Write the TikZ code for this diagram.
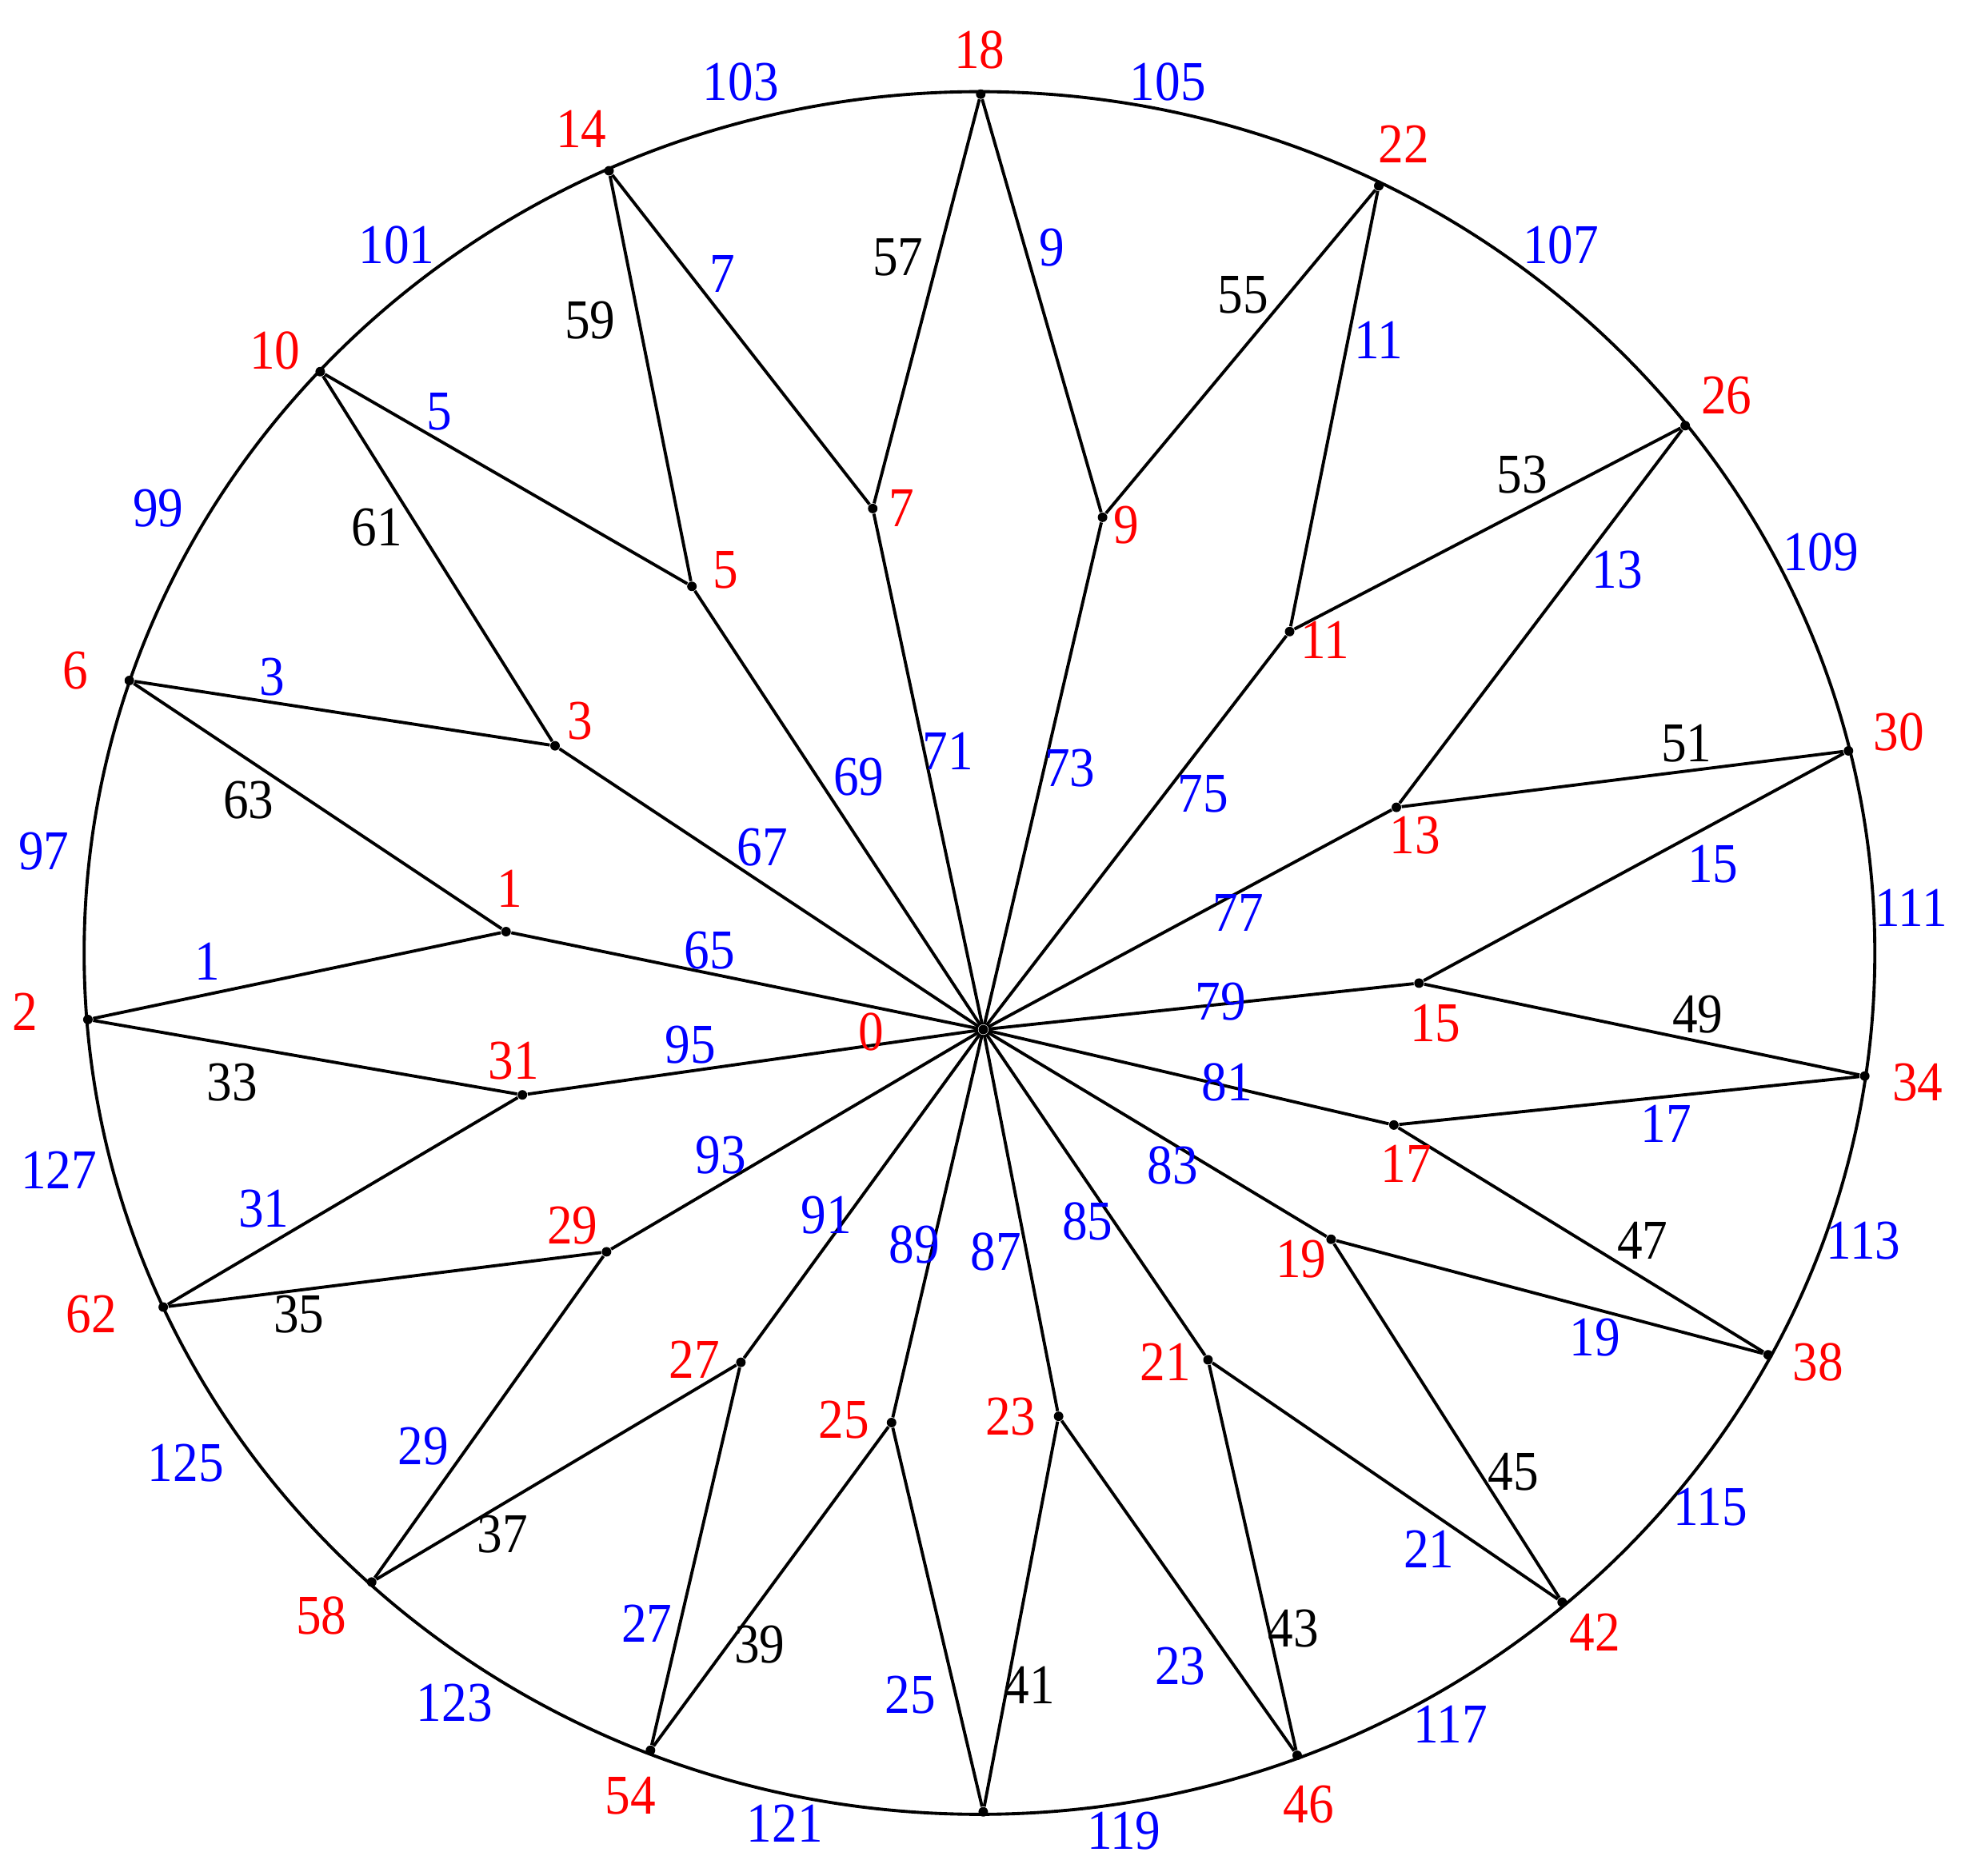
\documentclass[tikz,border=0pt]{standalone}
\usepackage{fontspec}
\setmainfont{Liberation Serif}[FakeStretch=0.9]
\usetikzlibrary{positioning}
\tikzset{%
  vertex/.style={circle, fill, inner sep=0pt, minimum size=3.4pt}, % the dots
  vnum/.style={text=red, inner sep=0pt},   % vertex numbers
  enum/.style={text=blue, inner sep=0pt},  % edge numbers
  knum/.style={text=black, inner sep=0pt}, % the other edge numbers
  every edge/.style={draw, line width=1.1pt}
}

\begin{document}
\begin{tikzpicture}[x=0.15702mm, y=-0.15702mm, font=\fontsize{20}{22}\selectfont]
    \useasboundingbox (0,0) rectangle (1568,1494);

    % outer circle
    \draw[line width=1.1pt] (780,759) ellipse [x radius=713, y radius=686];

    % vertices
    \foreach \n/\x/\y in {0/783/820, 1/403/742, 3/442/594, 5/551/467, 7/695/405,
        9/878/412, 11/1027/503, 13/1112/643, 15/1130/783, 17/1110/896, 19/1060/987,
        21/962/1083, 23/843/1128, 25/710/1133, 27/590/1085, 29/483/997, 31/416/872,
        2/70/812, 6/103/542, 10/255/296, 14/485/136, 18/781/75, 22/1098/148,
        26/1342/339, 30/1472/598, 34/1485/857, 38/1408/1079, 42/1244/1276,
        46/1033/1398, 50/783/1443, 54/518/1394, 58/296/1260, 62/130/1041}
        \node[vertex] (v\n) at (\x,\y) {};

    % edges
    \foreach \k in {1,3,...,31} {
        \pgfmathtruncatemacro\a{2*\k}
        \pgfmathtruncatemacro\b{mod(2*\k+4,64)}
        \draw (v\k) edge (v\a) edge (v\b) (v0) edge (v\k);
    }

    % vertex numbers
    \foreach \n/\x/\y in {0/694/822, 1/406/708, 3/462/574, 5/578/454, 7/718/405,
        9/897/418, 11/1055/510, 13/1127/665, 15/1143/815, 17/1120/927, 19/1036/1003,
        21/928/1085, 23/805/1128, 25/672/1131, 27/553/1083, 29/456/976, 31/409/845,
        2/20/806, 6/60/534, 10/219/279, 14/463/103, 18/780/40, 22/1118/115,
        26/1375/315, 30/1512/583, 34/1527/862, 38/1448/1085, 42/1270/1300,
        46/1042/1437, 54/502/1430, 58/256/1287, 62/73/1047}
        \node[vnum] (l\n) at (\x,\y) {\n};

    % edge numbers, blue
    \foreach \n/\x/\y in {1/165/766, 3/217/539, 5/350/328, 7/575/218, 9/838/197,
        11/1098/271, 13/1288/454, 15/1364/688, 17/1327/895, 19/1270/1065,
        21/1138/1234, 23/940/1327, 25/725/1350, 27/515/1293, 29/337/1152, 31/210/963,
        65/565/757, 67/607/675, 69/684/619, 71/755/598, 73/852/612, 75/958/632,
        77/986/727, 79/972/798, 81/977/862, 83/934/928, 85/866/973, 87/793/997,
        89/728/991, 91/658/968, 93/574/920, 95/550/832,
        97/35/678, 99/126/405, 101/316/195, 103/590/65, 105/930/65, 107/1243/195,
        109/1450/440, 111/1522/723, 113/1484/988, 115/1362/1200, 117/1155/1373,
        119/895/1458, 121/625/1452, 123/362/1356, 125/148/1165, 127/47/932}
        \node[enum] (e\n) at (\x,\y) {\n};

    % edge numbers, black
    \foreach \n/\x/\y in {33/185/862, 35/238/1047, 37/400/1222, 39/605/1310,
        41/820/1342, 43/1030/1297, 45/1205/1172, 47/1308/988, 49/1352/808,
        51/1343/592, 53/1212/378, 55/990/235, 57/715/205, 59/470/255, 61/300/420,
        63/198/637}
        \node[knum] (k\n) at (\x,\y) {\n};
\end{tikzpicture}
\end{document}
